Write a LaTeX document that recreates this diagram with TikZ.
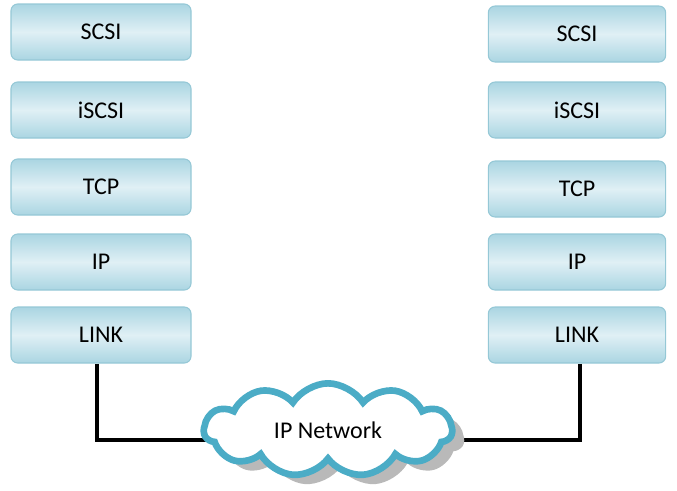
\documentclass[tikz,border=0pt]{standalone}
\usepackage{fontspec}
\setmainfont{Carlito}
\usetikzlibrary{shapes.symbols,shadows,backgrounds}
\definecolor{layeredge}{HTML}{95C8D6}
\definecolor{layerdark}{HTML}{AAD5E2}
\definecolor{layerlight}{HTML}{E0F0F5}
\definecolor{cloudblue}{HTML}{4BACC6}
\definecolor{cloudgray}{HTML}{B9B9B9}
\tikzset{
  layer/.style={draw=layeredge, line width=0.8pt, rounded corners=5pt,
    top color=layerdark, bottom color=layerdark, middle color=layerlight,
    minimum height=42pt, font=\fontsize{18}{20}\selectfont},
  wire/.style={line width=2.4pt},
  net/.style={cloud, cloud puffs=11, cloud puff arc=115, aspect=2.5,
    minimum width=186pt, minimum height=70pt, inner sep=0pt,
    draw=cloudblue, line width=5pt, fill=white,
    drop shadow={shadow xshift=9pt, shadow yshift=-7pt, fill=cloudgray, opacity=1},
    font=\fontsize{18}{20}\selectfont},
}

\begin{document}
\begin{tikzpicture}[x=0.75pt,y=-0.75pt]
      \useasboundingbox (0,0) rectangle (677,490);
      % left stack
      \foreach \n/\t/\y in {sl/SCSI/32, il/iSCSI/110, tl/TCP/187, pl/IP/262, ll/LINK/335} {
	\node[layer, minimum width=135pt] (\n) at (101,\y) {\t};
      };
      % right stack
      \foreach \n/\t/\y in {sr/SCSI/34, ir/iSCSI/110, tr/TCP/189, pr/IP/262, lr/LINK/335} {
	\node[layer, minimum width=133pt] (\n) at (577,\y) {\t};
      };
      % cloud
      \node[net] (ipnet) at (328,430) {IP Network};
      \coordinate (cl) at (97,440);
      \coordinate (cr) at (580,440);
      \begin{scope}[on background layer]
	\draw[wire] (ll.south -| cl) -- (cl) -- (ipnet.center |- cl);
	\draw[wire] (lr.south -| cr) -- (cr) -- (ipnet.center |- cr);
      \end{scope}
    \end{tikzpicture}
\end{document}
